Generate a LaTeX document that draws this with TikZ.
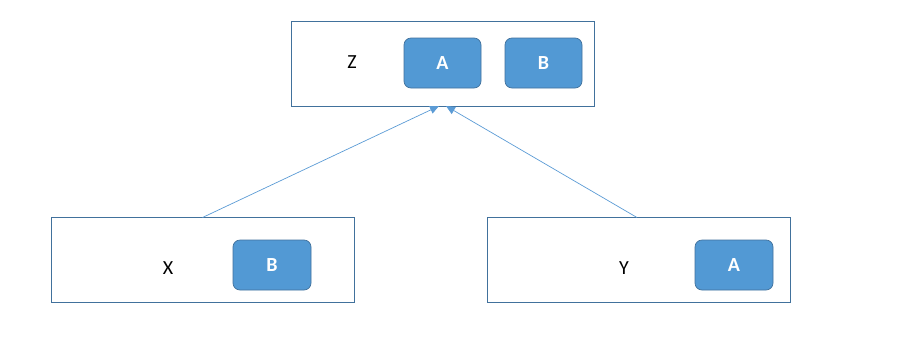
\documentclass[tikz,border=0pt]{standalone}
\usepackage{fontspec}
\setmainfont{Carlito}
\usetikzlibrary{arrows.meta}
\definecolor{outline}{HTML}{41719C}
\definecolor{fillblue}{HTML}{5299D4}
\definecolor{arrowblue}{HTML}{5B9BD5}
\begin{document}
\begin{tikzpicture}[x=1pt,y=-1pt,
  outerbox/.style={draw=outline, line width=0.9pt, fill=white, inner sep=0, outer sep=0, minimum width=303pt, minimum height=85pt},
  innerbox/.style={draw=outline, line width=0.7pt, fill=fillblue, rounded corners=7pt, inner sep=0, minimum width=77pt, minimum height=50pt, text=white, font=\fontsize{20}{20}\selectfont\bfseries},
  plainlabel/.style={text=black, inner sep=0, font=\fontsize{20}{20}\selectfont},
  conn/.style={draw=arrowblue, line width=0.7pt, -{Triangle[length=9pt,width=8pt]}}]
\useasboundingbox (0,0) rectangle (900,357);
% Z box
\node[outerbox] (zbox) at (442.5,63.5) {};
\node[innerbox] (za) at (442.5,63) {A};
\node[innerbox] (zb) at (543.5,63) {B};
\node[plainlabel] (zl) at (352,62) {Z};
% X box
\node[outerbox] (xbox) at (202.5,260) {};
\node[innerbox, minimum width=78pt] (xb) at (272,265) {B};
\node[plainlabel] (xl) at (168,268) {X};
% Y box
\node[outerbox] (ybox) at (638.5,260) {};
\node[innerbox, minimum width=78pt] (ya) at (734,265) {A};
\node[plainlabel] (yl) at (624,268) {Y};
% connectors
\coordinate (zt1) at ([xshift=-3.5pt]zbox.south);
\coordinate (zt2) at ([xshift=3.5pt]zbox.south);
\draw[conn] (xbox.north) -- (zt1);
\draw[conn] ([xshift=-1.5pt]ybox.north) -- (zt2);
\end{tikzpicture}
\end{document}
